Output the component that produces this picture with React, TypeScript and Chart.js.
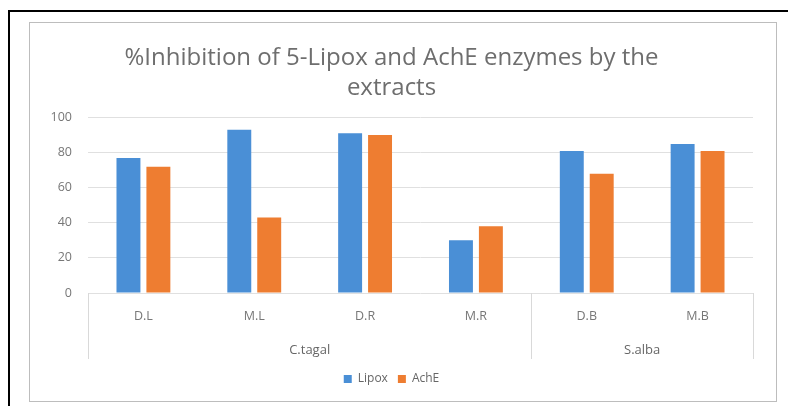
import React, { useEffect, useRef } from "react";
import { Chart, registerables } from "chart.js";

Chart.register(...registerables);

const categories = ["D.L", "M.L", "D.R", "M.R", "D.B", "M.B"];
const groups = ["C.tagal", "S.alba"];
const groupSizes = [4, 2];
const lipox = [77, 93, 91, 30, 81, 85];
const ache = [72, 43, 90, 38, 68, 81];
const titleLines = ["%Inhibition of 5-Lipox and AchE enzymes by the", "extracts"];

const FONT = "'Open Sans', 'Noto Sans', sans-serif";

const groupPlugin = {
  id: "groupAxis",
  afterDraw(chart: any) {
    const x = chart.scales.x;
    const area = chart.chartArea;
    const ctx = chart.ctx;
    ctx.save();
    ctx.strokeStyle = "#d9d9d9";
    ctx.lineWidth = 1;
    let start = 0;
    const bounds = [0];
    groupSizes.forEach((n) => {
      start += n;
      bounds.push(start);
    });
    bounds.forEach((b) => {
      const px = Math.round(x.getPixelForValue(b - 0.5)) + 0.5;
      ctx.beginPath();
      ctx.moveTo(px, area.bottom);
      ctx.lineTo(px, area.bottom + 66);
      ctx.stroke();
    });
    ctx.fillStyle = "#666666";
    ctx.font = `13px ${FONT}`;
    ctx.textAlign = "center";
    ctx.textBaseline = "middle";
    let s = 0;
    groups.forEach((g, i) => {
      const mid = s + groupSizes[i] / 2 - 0.5;
      ctx.fillText(g, x.getPixelForValue(mid), area.bottom + 57);
      s += groupSizes[i];
    });
    ctx.restore();
  },
};

export default function App() {
  const ref = useRef<HTMLCanvasElement>(null);
  useEffect(() => {
    if (!ref.current) return;
    const chart = new Chart(ref.current, {
      type: "bar",
      data: {
        labels: categories,
        datasets: [
          { label: "Lipox", data: lipox, backgroundColor: "#4A8FD6" },
          { label: "AchE", data: ache, backgroundColor: "#EE7D31" },
        ],
      },
      options: {
        animation: false,
        responsive: false,
        maintainAspectRatio: false,
        datasets: { bar: { categoryPercentage: 0.54, barPercentage: 0.8 } },
        layout: { padding: { top: 11, right: 23, left: 0, bottom: 6 } },
        plugins: {
          title: {
            display: true,
            text: titleLines,
            color: "#6e6e6e",
            font: { family: FONT, size: 24, weight: "normal", lineHeight: 1.22 },
            padding: { top: 10, bottom: 15 },
          },
          legend: {
            position: "bottom",
            labels: {
              boxWidth: 8,
              boxHeight: 8,
              color: "#666666",
              font: { family: FONT, size: 12 },
              padding: 10,
            },
          },
          tooltip: { enabled: false },
        },
        scales: {
          x: {
            grid: { display: false, drawTicks: false },
            border: { display: false },
            ticks: { color: "#777777", font: { family: FONT, size: 12.5 }, padding: 16 },
            afterFit: (s: any) => {
              s.height = 70;
            },
          },
          y: {
            min: 0,
            max: 100,
            ticks: { stepSize: 20, color: "#777777", font: { family: FONT, size: 12.5 }, padding: 16 },
            grid: { color: "#e0e0e0", drawTicks: false },
            border: { display: false },
            afterFit: (s: any) => {
              s.width = 58;
            },
          },
        },
      },
      plugins: [groupPlugin],
    });
    return () => chart.destroy();
  }, []);

  return (
    <div style={{ position: "fixed", left: 0, top: 0, width: 788, height: 406, background: "#fff", overflow: "hidden" }}>
      <div
        style={{
          position: "absolute",
          left: 8,
          top: 10,
          width: 820,
          height: 420,
          border: "2px solid #000",
        }}
      />
      <div
        style={{
          position: "absolute",
          left: 29,
          top: 22,
          width: 746,
          height: 378,
          border: "1px solid #bdbdbd",
          background: "#fff",
        }}
      >
        <canvas ref={ref} width={746} height={378} style={{ display: "block" }} />
      </div>
    </div>
  );
}
